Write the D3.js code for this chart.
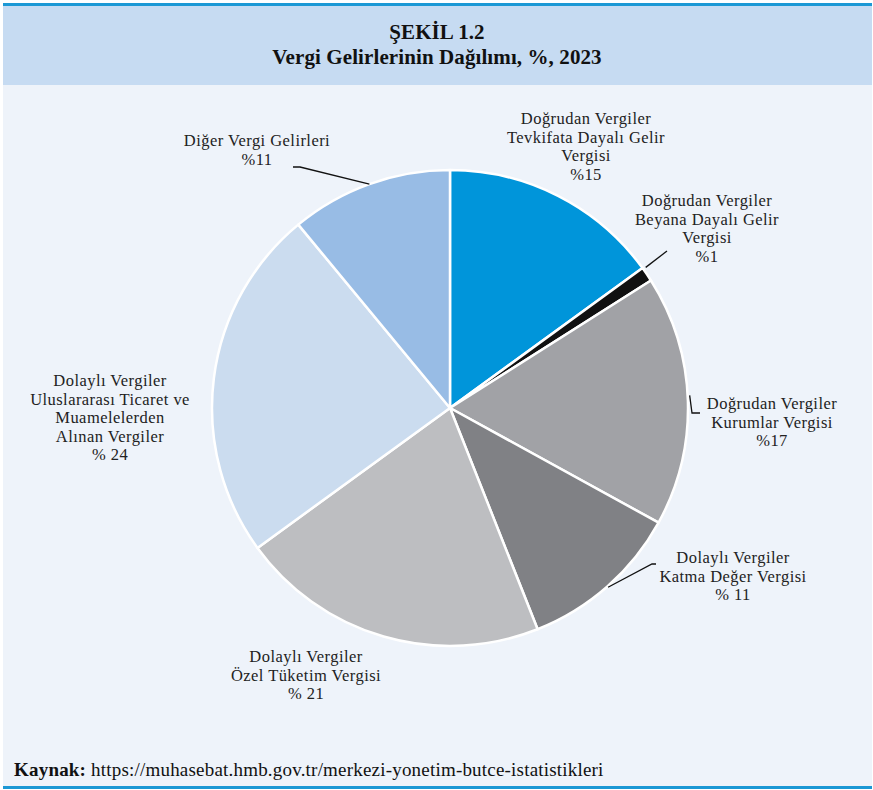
<!DOCTYPE html>
<html>
<head>
<meta charset="utf-8">
<script src="https://cdn.jsdelivr.net/npm/d3@7/dist/d3.min.js"></script>
<style>
  html, body { margin: 0; padding: 0; background: #ffffff; }
  svg { display: block; }
</style>
</head>
<body>
<svg id="chart" width="873" height="790"></svg>
<script>
// Tax revenue shares, 2023 (%), clockwise from 12 o'clock
const categories = [
  "Doğrudan Vergiler Tevkifata Dayalı Gelir Vergisi",
  "Doğrudan Vergiler Beyana Dayalı Gelir Vergisi",
  "Doğrudan Vergiler Kurumlar Vergisi",
  "Dolaylı Vergiler Katma Değer Vergisi",
  "Dolaylı Vergiler Özel Tüketim Vergisi",
  "Dolaylı Vergiler Uluslararası Ticaret ve Muamelelerden Alınan Vergiler",
  "Diğer Vergi Gelirleri"
];
const values = [15, 1, 17, 11, 21, 24, 11];
const labelLines = [
  ["Doğrudan Vergiler", "Tevkifata Dayalı Gelir", "Vergisi"],
  ["Doğrudan Vergiler", "Beyana Dayalı Gelir", "Vergisi"],
  ["Doğrudan Vergiler", "Kurumlar Vergisi"],
  ["Dolaylı Vergiler", "Katma Değer Vergisi"],
  ["Dolaylı Vergiler", "Özel Tüketim Vergisi"],
  ["Dolaylı Vergiler", "Uluslararası Ticaret ve", "Muamelelerden", "Alınan Vergiler"],
  ["Diğer Vergi Gelirleri"]
];
const valueLabels = ["%15", "%1", "%17", "% 11", "% 21", "% 24", "%11"];
const colors = ["#0095da", "#111111", "#a1a2a6", "#808185", "#bdbec1", "#cbdcef", "#98bce5"];

// Layout: label block position (center x, first baseline y) and optional leader
const W = 873, H = 790;
const cx = 450, cy = 408, R = 238;
const labelLayout = [
  { x: 586, y: 124 },
  { x: 707, y: 206, leader: { da: -1.5, r: 241, pts: [[667, 251]] } },
  { x: 772, y: 409, leader: { da: -1.2, r: 240, pts: [[692, 413], [700, 413]] } },
  { x: 733, y: 563, leader: { da: 0, r: 239, pts: [[652, 564], [656, 564]] } },
  { x: 306, y: 662 },
  { x: 110, y: 386 },
  { x: 257, y: 146, leader: { da: 0, r: 238, pts: [[300, 167], [293, 167]] } }
];
const lineH = 18.6;
const serif = "'Liberation Serif', 'Times New Roman', serif";

const svg = d3.select("#chart");

// Panel
svg.append("rect").attr("x", 3).attr("y", 4).attr("width", 869).attr("height", 784).attr("fill", "#eef3fa");
svg.append("rect").attr("x", 3).attr("y", 4).attr("width", 869).attr("height", 81).attr("fill", "#c6dbf2");
svg.append("rect").attr("x", 3).attr("y", 3).attr("width", 869).attr("height", 3).attr("fill", "#1b98d5");
svg.append("rect").attr("x", 3).attr("y", 786).attr("width", 869).attr("height", 3).attr("fill", "#1b98d5");

// Title
const title = svg.append("g").attr("font-family", serif)
  .attr("font-weight", "bold").attr("fill", "#111").attr("text-anchor", "middle")
  .attr("font-size", 21).attr("letter-spacing", 0.1);
title.append("text").attr("x", 437).attr("y", 39).text("ŞEKİL 1.2");
title.append("text").attr("x", 437).attr("y", 64).text("Vergi Gelirlerinin Dağılımı, %, 2023");

// Pie
const pie = d3.pie().sort(null).value(d => d)(values);
const arc = d3.arc().innerRadius(0).outerRadius(R);
const g = svg.append("g").attr("transform", `translate(${cx},${cy})`);
g.selectAll("path").data(pie).join("path")
  .attr("d", arc)
  .attr("fill", (d, i) => colors[i])
  .attr("stroke", "#ffffff")
  .attr("stroke-width", 2.5)
  .attr("stroke-linejoin", "round");

// Leader lines
const toXY = (a, r) => [cx + r * Math.sin(a), cy - r * Math.cos(a)];
pie.forEach((d, i) => {
  const L = labelLayout[i].leader;
  if (!L) return;
  const mid = (d.startAngle + d.endAngle) / 2 + L.da * Math.PI / 180;
  const pts = [toXY(mid, L.r), ...L.pts];
  svg.append("path")
    .attr("d", d3.line()(pts))
    .attr("fill", "none").attr("stroke", "#111").attr("stroke-width", 1.3);
});

// Labels
const labels = svg.append("g").attr("font-family", serif)
  .attr("font-size", 16.5).attr("letter-spacing", 0.45).attr("fill", "#222").attr("text-anchor", "middle");
labelLayout.forEach((p, i) => {
  const lines = labelLines[i].concat([valueLabels[i]]);
  const t = labels.append("text").attr("x", p.x).attr("y", p.y);
  lines.forEach((s, k) => t.append("tspan").attr("x", p.x).attr("y", p.y + k * lineH).text(s));
});

// Source
const src = svg.append("text").attr("x", 14).attr("y", 776)
  .attr("font-family", serif).attr("font-size", 19).attr("letter-spacing", 0.2).attr("fill", "#111");
src.append("tspan").attr("font-weight", "bold").text("Kaynak:");
src.append("tspan").text(" https://muhasebat.hmb.gov.tr/merkezi-yonetim-butce-istatistikleri");
</script>
</body>
</html>
